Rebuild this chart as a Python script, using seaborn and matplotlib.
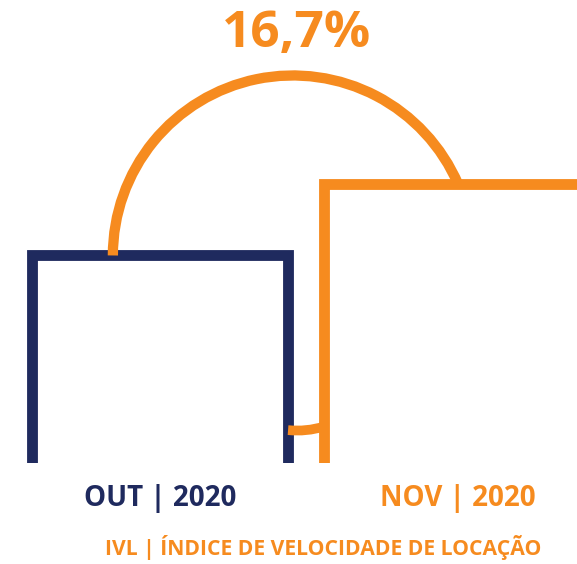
import numpy as np
import pandas as pd
import seaborn as sns
import matplotlib.pyplot as plt
import matplotlib.transforms as mtransforms
from matplotlib.patches import Arc

sns.set_style("white")
plt.rcParams['font.family'] = ['Open Sans', 'DejaVu Sans']

# data (relative bar heights)
months = ['OUT | 2020', 'NOV | 2020']
ivl = [3.0, 4.0]
change_label = '16,7%'
title = 'IVL | ÍNDICE DE VELOCIDADE DE LOCAÇÃO'

NAVY = '#1F2A5E'
ORANGE = '#F68B1F'
colors = [NAVY, ORANGE]

df = pd.DataFrame({'month': months, 'ivl': ivl})

W, H, DPI = 577, 564, 100
fig = plt.figure(figsize=(W / DPI, H / DPI), dpi=DPI)
ax_bottom_px = 463
ax = fig.add_axes([0, (H - ax_bottom_px) / H, 1, ax_bottom_px / H])

sns.barplot(data=df, x='month', y='ivl', hue='month', palette=colors,
            fill=False, linewidth=7.8, width=0.877, legend=False, ax=ax)

# scales: px per data unit
kx, ky = 292.0, 71.0
x0, y0 = -0.548, 0.077
ax.set_xlim(x0, x0 + W / kx)
ax.set_ylim(y0, y0 + ax_bottom_px / ky)

# arc linking the two bars
r_px = 180
cx, cy = 0.455, ivl[0]
dy_px = (ivl[1] - ivl[0]) * ky
dx_px = np.sqrt(r_px ** 2 - dy_px ** 2)
theta1 = np.degrees(np.arctan2(dy_px / ky, dx_px / kx))
arc = Arc((cx, cy), 2 * r_px / kx, 2 * r_px / ky, theta1=theta1, theta2=180,
          color=ORANGE, lw=7.4, capstyle='butt', zorder=1)
ax.add_patch(arc)

# small connector near the base
bw = 0.877 / 2
ax.annotate('', xy=(1 - bw, 0.59), xytext=(bw, 0.54), zorder=1,
            arrowprops=dict(arrowstyle='-', color=ORANGE, lw=7.0, capstyle='butt',
                            connectionstyle='arc3,rad=0.1', shrinkA=0, shrinkB=0))

sns.despine(ax=ax, left=True, bottom=True)
ax.set_yticks([])
ax.set_xlabel('')
ax.set_ylabel('')
ax.tick_params(axis='x', length=0, pad=15, labelsize=20)
for i, (lbl, c) in enumerate(zip(ax.get_xticklabels(), colors)):
    lbl.set_color(c)
    lbl.set_fontweight('bold')
    if i == 1:
        lbl.set_transform(lbl.get_transform() +
                          mtransforms.ScaledTranslation(6 / DPI, 0, fig.dpi_scale_trans))

fig.text(297 / W, 1 - 34 / H, change_label, color=ORANGE, fontsize=37,
         fontweight='bold', ha='center', va='center')
fig.text(323 / W, 1 - 548 / H, title, color=ORANGE, fontsize=15.2,
         fontweight='bold', ha='center', va='center')

fig.savefig('out.png', dpi=DPI)
